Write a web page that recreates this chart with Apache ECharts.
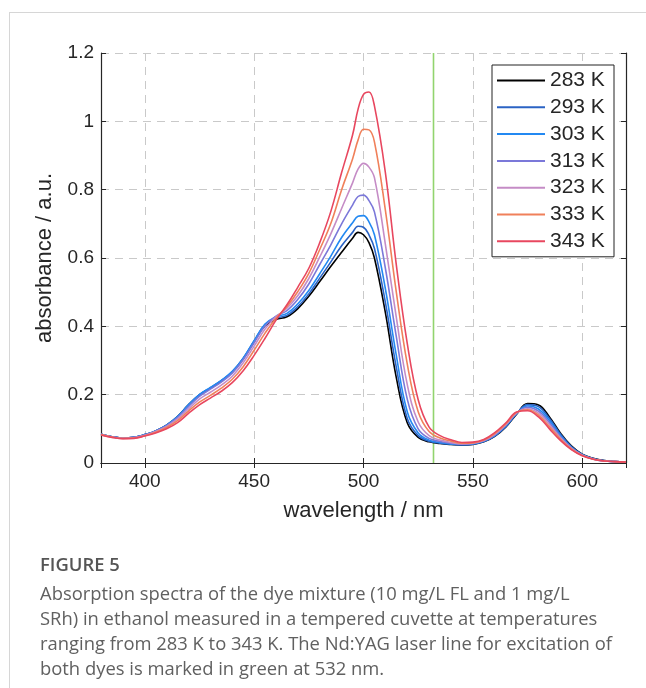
<!DOCTYPE html>
<html>
<head>
<meta charset="utf-8">
<script src="https://cdn.jsdelivr.net/npm/echarts@6/dist/echarts.min.js"></script>
<style>
html, body { margin: 0; padding: 0; background: #fff; }
#card { position: absolute; left: 9px; top: 12px; width: 700px; height: 700px;
        border-left: 1px solid #d6d6d6; border-top: 1px solid #d6d6d6; }
#main { position: absolute; left: 0; top: 0; width: 646px; height: 688px; }
#caption { position: absolute; left: 40px; top: 551px; font-family: "Open Sans", sans-serif;
           font-size: 18.4px; line-height: 25px; color: #606060; white-space: nowrap; }
#caption .fig { font-weight: 600; color: #555; margin-bottom: 4px; }
</style>
</head>
<body>
<div id="card"></div>
<div id="main"></div>
<div id="caption">
  <div class="fig">FIGURE 5</div>
  <div>Absorption spectra of the dye mixture (10 mg/L FL and 1 mg/L</div>
  <div>SRh) in ethanol measured in a tempered cuvette at temperatures</div>
  <div>ranging from 283 K to 343 K. The Nd:YAG laser line for excitation of</div>
  <div>both dyes is marked in green at 532 nm.</div>
</div>
<script>
// wavelength grid, nm (denser round the main peak)
var wavelength = [380, 385, 390, 395, 400, 405, 410, 415, 420, 425, 430, 435, 440, 445, 450, 455, 460,
                  465, 470, 475, 480, 485, 490, 495, 497.5, 500, 502.5, 505, 510, 515, 520, 525, 530, 535, 540, 545,
                  550, 555, 560, 565, 570, 575, 580, 585, 590, 595, 600, 605, 610, 615, 620];

var temps = ['283 K', '293 K', '303 K', '313 K', '323 K', '333 K', '343 K'];

// absorbance, one array per temperature
var abs283 = [0.084, 0.077, 0.073, 0.075, 0.083, 0.094, 0.111, 0.136, 0.170, 0.199, 0.219, 0.240, 0.266, 0.305, 0.355, 0.402, 0.420,
              0.428, 0.452, 0.488, 0.531, 0.575, 0.617, 0.658, 0.675, 0.668, 0.645, 0.600, 0.440, 0.250, 0.118, 0.075, 0.062, 0.057, 0.054, 0.052,
              0.054, 0.062, 0.078, 0.105, 0.143, 0.174, 0.170, 0.135, 0.088, 0.050, 0.026, 0.014, 0.007, 0.004, 0.003];
var abs293 = [0.084, 0.077, 0.073, 0.075, 0.083, 0.094, 0.111, 0.136, 0.170, 0.200, 0.220, 0.241, 0.267, 0.306, 0.357, 0.405, 0.424,
              0.432, 0.458, 0.495, 0.541, 0.588, 0.636, 0.675, 0.693, 0.690, 0.668, 0.628, 0.470, 0.280, 0.130, 0.080, 0.064, 0.058, 0.055, 0.053,
              0.055, 0.063, 0.079, 0.106, 0.144, 0.171, 0.165, 0.130, 0.085, 0.048, 0.025, 0.013, 0.007, 0.004, 0.003];
var abs303 = [0.084, 0.077, 0.073, 0.075, 0.083, 0.094, 0.111, 0.136, 0.170, 0.200, 0.221, 0.242, 0.268, 0.307, 0.358, 0.407, 0.428,
              0.438, 0.466, 0.505, 0.554, 0.605, 0.660, 0.703, 0.722, 0.724, 0.706, 0.668, 0.510, 0.315, 0.150, 0.088, 0.067, 0.060, 0.056, 0.054,
              0.056, 0.064, 0.080, 0.108, 0.145, 0.167, 0.158, 0.124, 0.081, 0.046, 0.024, 0.012, 0.006, 0.004, 0.003];
var abs313 = [0.084, 0.077, 0.073, 0.075, 0.082, 0.093, 0.109, 0.133, 0.165, 0.195, 0.216, 0.237, 0.263, 0.302, 0.352, 0.402, 0.430,
              0.446, 0.479, 0.524, 0.581, 0.638, 0.700, 0.755, 0.780, 0.784, 0.768, 0.735, 0.570, 0.370, 0.187, 0.100, 0.072, 0.063, 0.058, 0.055,
              0.057, 0.065, 0.082, 0.110, 0.146, 0.163, 0.152, 0.118, 0.077, 0.044, 0.023, 0.012, 0.006, 0.004, 0.003];
var abs323 = [0.083, 0.076, 0.072, 0.074, 0.081, 0.092, 0.107, 0.129, 0.158, 0.187, 0.207, 0.228, 0.254, 0.293, 0.342, 0.392, 0.428,
              0.453, 0.490, 0.540, 0.603, 0.670, 0.745, 0.820, 0.860, 0.877, 0.866, 0.835, 0.640, 0.426, 0.230, 0.120, 0.080, 0.067, 0.060, 0.056,
              0.058, 0.066, 0.084, 0.112, 0.147, 0.159, 0.146, 0.112, 0.074, 0.043, 0.023, 0.012, 0.006, 0.004, 0.003];
var abs333 = [0.083, 0.076, 0.072, 0.073, 0.080, 0.090, 0.104, 0.124, 0.152, 0.178, 0.198, 0.219, 0.245, 0.282, 0.330, 0.380, 0.424,
              0.458, 0.502, 0.555, 0.625, 0.700, 0.800, 0.890, 0.945, 0.977, 0.975, 0.940, 0.740, 0.500, 0.290, 0.150, 0.092, 0.073, 0.064, 0.058,
              0.059, 0.067, 0.086, 0.114, 0.148, 0.156, 0.140, 0.106, 0.070, 0.041, 0.022, 0.011, 0.006, 0.004, 0.003];
var abs343 = [0.082, 0.075, 0.071, 0.072, 0.079, 0.088, 0.100, 0.118, 0.145, 0.170, 0.190, 0.210, 0.235, 0.270, 0.315, 0.365, 0.418,
              0.463, 0.515, 0.570, 0.645, 0.735, 0.850, 0.960, 1.035, 1.079, 1.086, 1.045, 0.850, 0.580, 0.350, 0.185, 0.105, 0.080, 0.068, 0.060,
              0.061, 0.069, 0.089, 0.117, 0.149, 0.153, 0.135, 0.100, 0.066, 0.039, 0.021, 0.011, 0.006, 0.004, 0.003];

var laserWavelength = 532;

var spectra = [abs283, abs293, abs303, abs313, abs323, abs333, abs343];
var colors = ['#000000', '#2b63c4', '#2389f2', '#7b78d9', '#c58cc6', '#f0805a', '#e8475f'];

var axisColor = '#262626';
var tickFont = 'Liberation Sans';

var myChart = echarts.init(document.getElementById('main'));

var series = spectra.map(function (arr, k) {
    return {
        name: temps[k],
        type: 'line',
        smooth: 0.4,
        symbol: 'none',
        xAxisIndex: 0,
        yAxisIndex: 0,
        lineStyle: { color: colors[k], width: 1.6 },
        itemStyle: { color: colors[k] },
        data: wavelength.map(function (w, i) { return [w, arr[i]]; }),
        z: 3 + k
    };
});
// Nd:YAG laser line
series.push({
    name: 'laser',
    type: 'line',
    symbol: 'none',
    lineStyle: { color: '#92d46e', width: 1.6 },
    data: [[laserWavelength, 0], [laserWavelength, 1.2]],
    z: 2
});

var gridDash = { color: '#c9c9c9', width: 1, type: [8, 6] };

option = {
    animation: false,
    grid: { left: 101, right: 20, top: 53, bottom: 225, outerBoundsMode: 'none' },
    legend: {
        data: temps,
        orient: 'vertical',
        left: 492,
        top: 65,
        padding: [5, 6, 5, 5],
        itemGap: 5.8,
        itemWidth: 48,
        itemHeight: 2,
        icon: 'rect',
        backgroundColor: '#fff',
        borderColor: '#222',
        borderWidth: 1,
        borderRadius: 0,
        textStyle: { fontFamily: tickFont, fontSize: 21, color: axisColor, width: 58, lineHeight: 20 }
    },
    xAxis: [
        {
            type: 'value', min: 380, max: 620, minInterval: 50, maxInterval: 50,
            name: 'wavelength / nm', nameLocation: 'middle', nameGap: 37,
            nameTextStyle: { fontFamily: tickFont, fontSize: 22, color: axisColor },
            axisLine: { lineStyle: { color: axisColor, width: 1.2 } },
            axisTick: { inside: true, length: 5, lineStyle: { color: axisColor } },
            axisLabel: { showMinLabel: false, showMaxLabel: false, margin: 9,
                         fontFamily: tickFont, fontSize: 19, color: axisColor },
            splitLine: { show: true, lineStyle: gridDash }
        },
        {
            type: 'value', position: 'top', min: 380, max: 620, minInterval: 50, maxInterval: 50,
            axisLine: { lineStyle: { color: axisColor, width: 1.2 } },
            axisTick: { inside: true, length: 5, lineStyle: { color: axisColor } },
            axisLabel: { show: false },
            splitLine: { show: false }
        }
    ],
    yAxis: [
        {
            type: 'value', min: 0, max: 1.2, interval: 0.2,
            name: 'absorbance / a.u.', nameLocation: 'middle', nameGap: 45,
            nameTextStyle: { fontFamily: tickFont, fontSize: 22, color: axisColor },
            axisLine: { show: true, lineStyle: { color: axisColor, width: 1.2 } },
            axisTick: { show: true, inside: true, length: 5, lineStyle: { color: axisColor } },
            axisLabel: { margin: 7, fontFamily: tickFont, fontSize: 19, color: axisColor },
            splitLine: { show: true, lineStyle: gridDash }
        },
        {
            type: 'value', position: 'right', min: 0, max: 1.2, interval: 0.2,
            axisLine: { show: true, lineStyle: { color: axisColor, width: 1.2 } },
            axisTick: { show: true, inside: true, length: 5, lineStyle: { color: axisColor } },
            axisLabel: { show: false },
            splitLine: { show: false }
        }
    ],
    series: series
};

myChart.setOption(option);
window.addEventListener('resize', function () {
    myChart.resize();
});
</script>
</body>
</html>
